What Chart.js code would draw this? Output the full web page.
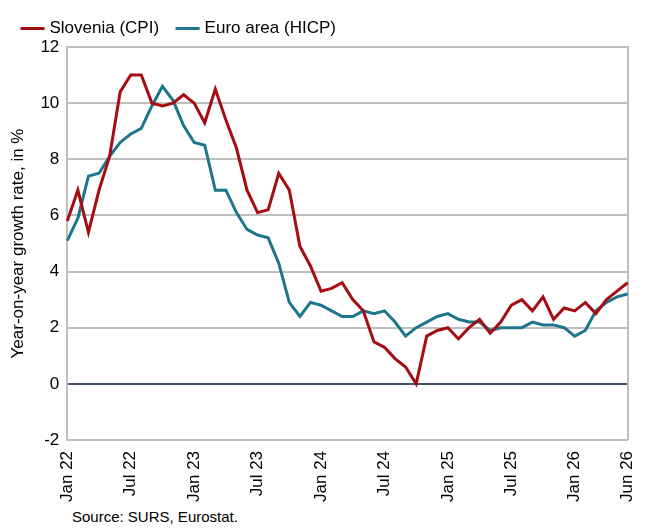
<!DOCTYPE html>
<html><head><meta charset="utf-8">
<script src="https://cdn.jsdelivr.net/npm/chart.js@4"></script>
<style>
body{margin:0;background:#fff;font-family:"Liberation Sans",Arial,sans-serif;}
#wrap{position:relative;width:651px;height:505px;}
#src{position:absolute;left:72px;top:508px;font-size:15px;color:#000;}
</style></head><body>
<div id="wrap"><canvas id="c" width="651" height="505"></canvas></div>
<div id="src">Source: SURS, Eurostat.</div>
<script>
var months = ['Jan','Feb','Mar','Apr','May','Jun','Jul','Aug','Sep','Oct','Nov','Dec'];
var labels = [];
for (var y = 22; y <= 26; y++) for (var m = 0; m < 12; m++) if (y < 26 || m < 6) labels.push(months[m] + ' ' + y);
var slovenia = [5.8,6.9,5.4,6.9,8.1,10.4,11.0,11.0,10.0,9.9,10.0,10.3,
  10.0,9.3,10.5,9.4,8.4,6.9,6.1,6.2,7.5,6.9,4.9,4.2,
  3.3,3.4,3.6,3.0,2.6,1.5,1.3,0.9,0.6,0.0,1.7,1.9,
  2.0,1.6,2.0,2.3,1.8,2.2,2.8,3.0,2.6,3.1,2.3,2.7,
  2.6,2.9,2.5,3.0,3.3,3.6];
var euroArea = [5.1,5.9,7.4,7.5,8.1,8.6,8.9,9.1,9.9,10.6,10.1,9.2,
  8.6,8.5,6.9,6.9,6.1,5.5,5.3,5.2,4.3,2.9,2.4,2.9,
  2.8,2.6,2.4,2.4,2.6,2.5,2.6,2.2,1.7,2.0,2.2,2.4,
  2.5,2.3,2.2,2.2,1.9,2.0,2.0,2.0,2.2,2.1,2.1,2.0,
  1.7,1.9,2.6,2.9,3.1,3.2];
var shown = [0,6,12,18,24,30,36,42,48,53];
var f = {family:'"Liberation Sans", Arial, sans-serif', size:17};
new Chart(document.getElementById('c'), {
  type:'line',
  data:{labels:labels, datasets:[
    {label:'Slovenia (CPI)', data:slovenia, borderColor:'#a50d12', backgroundColor:'#a50d12', borderWidth:3, pointRadius:0, tension:0},
    {label:'Euro area (HICP)', data:euroArea, borderColor:'#1f758b', backgroundColor:'#1f758b', borderWidth:3, pointRadius:0, tension:0}
  ]},
  options:{responsive:false, animation:false, maintainAspectRatio:false,
    layout:{padding:{left:4,right:10,top:0,bottom:0}},
    plugins:{legend:{align:'start', labels:{usePointStyle:true, pointStyle:'line', boxWidth:40, color:'#000', font:f, padding:20}},
      tooltip:{enabled:false}},
    scales:{
      x:{grid:{display:false}, border:{color:'#bfbfbf', width:2},
        ticks:{autoSkip:false, maxRotation:90, minRotation:90, color:'#000', font:f,
          callback:function(v,i){return shown.indexOf(i) >= 0 ? labels[i] : '';}}},
      y:{min:-2, max:12, border:{color:'#bfbfbf', width:2},
        title:{display:true, text:'Year-on-year growth rate, in %', color:'#000', font:f},
        grid:{color:function(c){return c.tick.value===0?'#44546a':'#bfbfbf';}, lineWidth:2, drawTicks:false},
        ticks:{stepSize:2, color:'#000', font:f, padding:8}},
      y2:{position:'right', min:-2, max:12, grid:{display:false}, ticks:{display:false}, border:{color:'#bfbfbf', width:2}}
    }}
});
</script>
</body></html>
